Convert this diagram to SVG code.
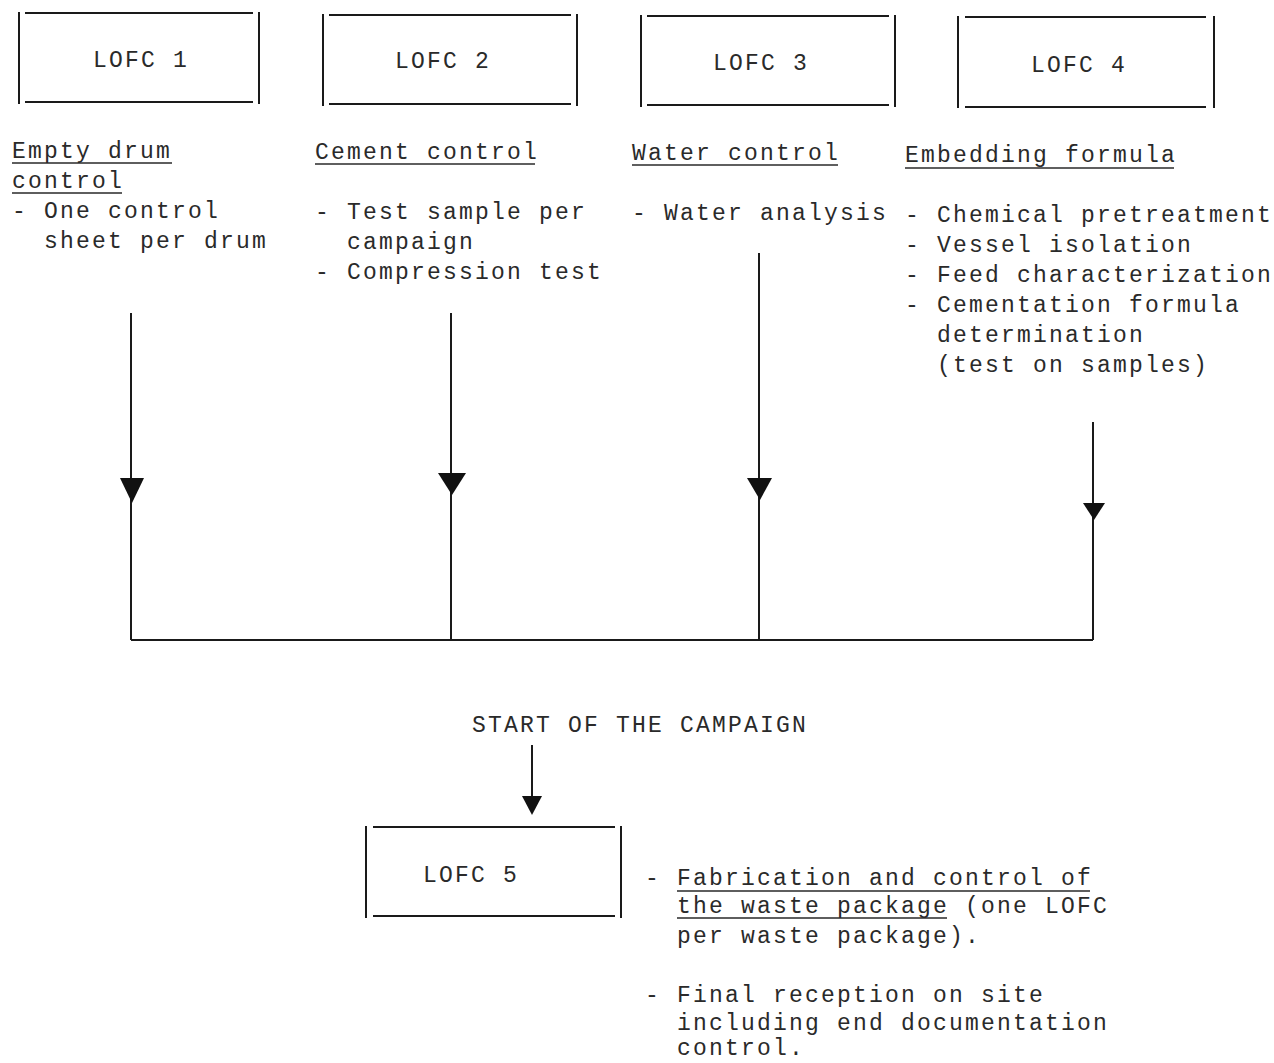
<svg xmlns="http://www.w3.org/2000/svg" width="1274" height="1063" viewBox="0 0 1274 1063">
<style>
text{font-family:"Liberation Mono","DejaVu Sans Mono",monospace;font-size:23px;letter-spacing:2.2px;fill:#2a2a2a}
.ln{stroke:#1a1a1a;stroke-width:2;fill:none}
.ul{stroke:#2a2a2a;stroke-width:1.6;fill:none}
.ah{fill:#111;stroke:none}
</style>
<rect width="1274" height="1063" fill="#ffffff"/>
<g id="lofc1">
<path class="ln" d="M19 12V104M259 12V104M25 13H253M25 102H253"/>
<text x="93" y="67">LOFC 1</text>
</g>
<g id="lofc2">
<path class="ln" d="M323 14V106M577 14V106M329 15H571M329 104H571"/>
<text x="395" y="68">LOFC 2</text>
</g>
<g id="lofc3">
<path class="ln" d="M641 15V107M895 15V107M647 16H889M647 105H889"/>
<text x="713" y="70">LOFC 3</text>
</g>
<g id="lofc4">
<path class="ln" d="M958 16V108M1214 16V108M965 17H1206M965 107H1206"/>
<text x="1031" y="72">LOFC 4</text>
</g>
<g id="lofc5">
<path class="ln" d="M366 826V918M621 826V918M373 827H615M373 916H615"/>
<text x="423" y="882">LOFC 5</text>
</g>
<g id="desc1">
<text x="12" y="158">Empty drum</text>
<text x="12" y="188">control</text>
<path class="ul" d="M12 163H172M12 193H122"/>
<text x="12" y="218">- One control</text>
<text x="44" y="248">sheet per drum</text>
</g>
<g id="desc2">
<text x="315" y="159">Cement control</text>
<path class="ul" d="M315 164H535"/>
<text x="315" y="219">- Test sample per</text>
<text x="347" y="249">campaign</text>
<text x="315" y="279">- Compression test</text>
</g>
<g id="desc3">
<text x="632" y="160">Water control</text>
<path class="ul" d="M632 165H838"/>
<text x="632" y="220">- Water analysis</text>
</g>
<g id="desc4">
<text x="905" y="162">Embedding formula</text>
<path class="ul" d="M905 168H1174"/>
<text x="905" y="222">- Chemical pretreatment</text>
<text x="905" y="252">- Vessel isolation</text>
<text x="905" y="282">- Feed characterization</text>
<text x="905" y="312">- Cementation formula</text>
<text x="937" y="342">determination</text>
<text x="937" y="372">(test on samples)</text>
</g>
<g id="start">
<text x="472" y="732">START OF THE CAMPAIGN</text>
</g>
<g id="desc5">
<text x="645" y="885">- Fabrication and control of</text>
<path class="ul" d="M677 891H1090M677 918H947"/>
<text x="677" y="913">the waste package (one LOFC</text>
<text x="677" y="943">per waste package).</text>
<text x="645" y="1002">- Final reception on site</text>
<text x="677" y="1030">including end documentation</text>
<text x="677" y="1055">control.</text>
</g>
<g id="connectors">
<path class="ln" d="M131 313V640M451 313V640M759 253V640M1093 422V640M131 640H1093"/>
<polygon class="ah" points="120,478 144,478 132,503"/>
<polygon class="ah" points="438,473 466,473 452,495"/>
<polygon class="ah" points="747,478 772,478 760,500"/>
<polygon class="ah" points="1083,503 1105,503 1094,520"/>
<path class="ln" d="M532 745V800"/>
<polygon class="ah" points="522,796 542,796 532,815"/>
</g>
</svg>
